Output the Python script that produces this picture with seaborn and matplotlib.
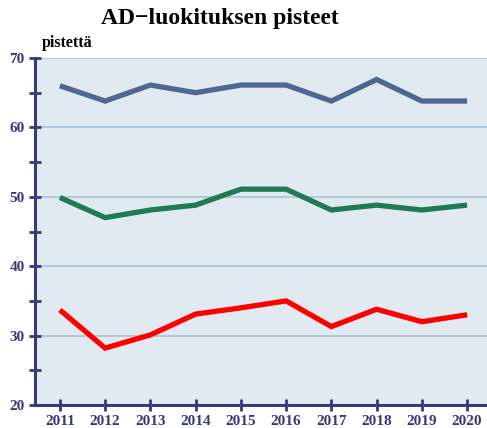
import matplotlib
matplotlib.use("Agg")
import matplotlib.pyplot as plt
from matplotlib.ticker import MultipleLocator
import numpy as np
import pandas as pd
import seaborn as sns

years = [2011, 2012, 2013, 2014, 2015, 2016, 2017, 2018, 2019, 2020]
top_series = [66.0, 63.8, 66.1, 65.0, 66.1, 66.1, 63.8, 66.9, 63.8, 63.8]
mid_series = [49.9, 47.0, 48.1, 48.8, 51.1, 51.1, 48.1, 48.8, 48.1, 48.8]
low_series = [33.7, 28.2, 30.1, 33.1, 34.0, 35.0, 31.3, 33.8, 32.0, 33.0]
series_names = ["ylä", "keski", "ala"]
series_colors = ["#4f6891", "#1f7a55", "#ff0000"]

df = pd.DataFrame({
    "vuosi": years * 3,
    "pisteet": top_series + mid_series + low_series,
    "sarja": [n for n in series_names for _ in years],
})

sns.set_theme(style="white")
plt.rcParams["font.family"] = ["Liberation Serif", "DejaVu Serif"]

navy = "#38387a"
fig = plt.figure(figsize=(4.87, 4.28), dpi=100)
ax = fig.add_axes([35 / 487, 1 - 405 / 428, 452 / 487, 347 / 428])
ax.set_facecolor("#e1e9f1")

sns.lineplot(data=df, x="vuosi", y="pisteet", hue="sarja",
             palette=dict(zip(series_names, series_colors)),
             linewidth=3.8, legend=False, ax=ax, zorder=3)
for line in ax.lines:
    line.set_solid_joinstyle("miter")
    line.set_solid_capstyle("butt")

ax.set_xlim(2010.45, 2020.44)
ax.set_ylim(20, 70)
ax.set_xticks(years)
ax.set_xticklabels([str(y) for y in years])
ax.yaxis.set_major_locator(MultipleLocator(10))
ax.yaxis.set_minor_locator(MultipleLocator(5))
ax.grid(axis="y", which="major", color="#a9c3d6", linewidth=1.2, zorder=1)
ax.set_axisbelow(True)

for side in ["top", "right"]:
    ax.spines[side].set_visible(False)
for side in ["left", "bottom"]:
    ax.spines[side].set_color(navy)
    ax.spines[side].set_linewidth(2.2)

ax.tick_params(axis="both", which="both", direction="inout", color=navy,
               width=2, length=9, labelcolor=navy, labelsize=11, pad=3,
               bottom=True, left=True, top=False, right=False)
ax.tick_params(axis="y", which="minor", labelleft=False)
for lab in ax.get_xticklabels() + ax.get_yticklabels():
    lab.set_fontweight("bold")

ax.set_xlabel("")
ax.set_ylabel("")

fig.text(220 / 487, 1 - 24 / 428, "AD\u2212luokituksen pisteet",
         ha="center", va="baseline", fontsize=17, fontweight="bold", color="black")
fig.text(42 / 487, 1 - 47 / 428, "pistettä",
         ha="left", va="baseline", fontsize=11.5, fontweight="bold", color="black")

fig.savefig("out.png", dpi=100)
